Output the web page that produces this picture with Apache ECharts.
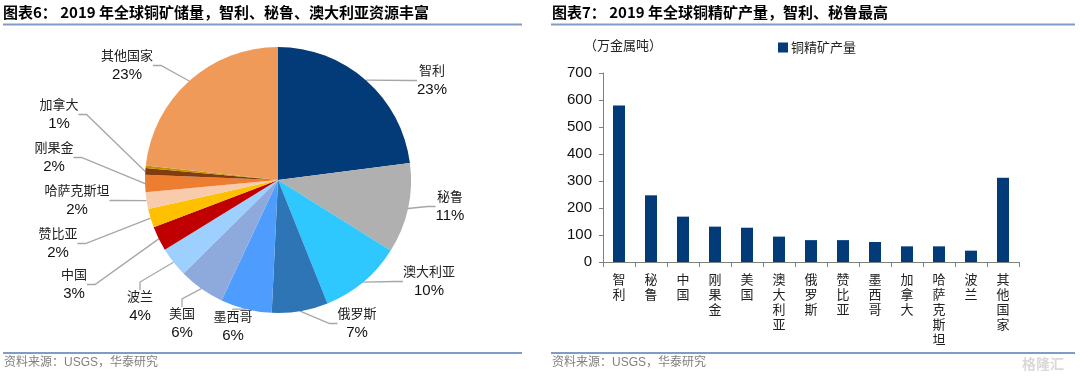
<!DOCTYPE html>
<html>
<head>
<meta charset="utf-8">
<script src="https://cdn.jsdelivr.net/npm/echarts@6/dist/echarts.min.js"></script>
<style>
html,body{margin:0;padding:0;background:#fff;}
#c{width:1080px;height:378px;}
</style>
</head>
<body>
<div id="c"></div>
<script>
// ---- Data ----
const pieNames = ['智利','秘鲁','澳大利亚','俄罗斯','墨西哥','美国','波兰','中国','赞比亚','哈萨克斯坦','刚果金','加拿大','','其他国家'];
const pieValues = [22.9, 10.9, 10.0, 6.8, 6.2, 5.6, 3.6, 3.0, 2.3, 2.0, 2.1, 0.8, 0.3, 23.2];
const pieLabels = ['23%','11%','10%','7%','6%','6%','4%','3%','2%','2%','2%','1%','','23%'];

const barCategories = ['智利','秘鲁','中国','刚果金','美国','澳大利亚','俄罗斯','赞比亚','墨西哥','加拿大','哈萨克斯坦','波兰','其他国家'];
const barValues = [580, 247, 168, 131, 127, 94, 81, 81, 74, 58, 58, 42, 312];
const barSeriesName = '铜精矿产量';
const yUnit = '（万金属吨）';

// ---- Styles / layout (not data) ----
const pieColors = ['#033a78','#b0b0b0','#2ec8ff','#2e75b6','#4f9cff','#8eaadc','#9dcfff','#c00000','#ffc000','#f8cbad','#ed7d31','#843c0c','#bf9000','#f09a5a'];
const labelPos = [[432,80],[450,206],[429,281],[357,323],[233,326],[182,323],[140,306],[74,284],[58,243],[77,200],[54,157],[59,114],null,[127,65]];

const cjk = '"Noto Sans CJK SC", sans-serif';
const lat = '"Liberation Sans", Arial, sans-serif';
const mix = '"Liberation Sans", "Noto Sans CJK SC", sans-serif';

const chart = echarts.init(document.getElementById('c'), null, {renderer:'canvas'});

const pieData = pieNames.map((n, i) => ({
  name: n, value: pieValues[i], pct: pieLabels[i],
  itemStyle: {color: pieColors[i]},
  label: {show: n !== ''},
  labelLine: {show: n !== ''}
}));

const lineColor = '#7f9cc6';
const option = {
  animation: false,
  backgroundColor: '#fff',
  graphic: [
    {type:'text', left: 3, top: 5, style:{text:'图表6： 2019 年全球铜矿储量，智利、秘鲁、澳大利亚资源丰富', font:'bold 15px ' + cjk, fill:'#000'}},
    {type:'text', left: 552, top: 5, style:{text:'图表7： 2019 年全球铜精矿产量，智利、秘鲁最高', font:'bold 15px ' + cjk, fill:'#000'}},
    {type:'line', shape:{x1:3, y1:24.5, x2:522, y2:24.5}, style:{stroke:lineColor, lineWidth:2}},
    {type:'line', shape:{x1:551, y1:24.5, x2:1075, y2:24.5}, style:{stroke:lineColor, lineWidth:2}},
    {type:'line', shape:{x1:3, y1:353, x2:522, y2:353}, style:{stroke:lineColor, lineWidth:2}},
    {type:'line', shape:{x1:551, y1:353, x2:1075, y2:353}, style:{stroke:lineColor, lineWidth:2}},
    {type:'text', left: 4, top: 357, style:{text:'资料来源：USGS，华泰研究', font:'12px ' + mix, fill:'#808080'}},
    {type:'text', left: 552, top: 357, style:{text:'资料来源：USGS，华泰研究', font:'12px ' + mix, fill:'#808080'}},
    {type:'text', left: 1022, top: 357, style:{text:'格隆汇', font:'bold 14px ' + cjk, fill:'#d9d9d9'}},
    {type:'text', left: 584, top: 39, style:{text: yUnit, font:'13px ' + cjk, fill:'#222'}}
  ],
  legend: {
    left: 773, top: 36,
    itemWidth: 10, itemHeight: 10, itemGap: 4,
    icon: 'rect',
    textStyle: {fontFamily: cjk, fontSize: 13, color:'#222', padding:[0,0,0,-2]},
    data: [barSeriesName]
  },
  grid: {left: 603, right: 61, top: 73, bottom: 116, containLabel: false},
  xAxis: {
    type: 'category',
    data: barCategories,
    axisLine: {lineStyle:{color:'#7f7f7f', width:1}},
    axisTick: {show:true, alignWithLabel:false, length:5, lineStyle:{color:'#7f7f7f'}},
    axisLabel: {
      interval: 0, margin: 10,
      fontFamily: cjk, fontSize: 13, color:'#222', lineHeight: 15,
      formatter: v => v.split('').join('\n')
    }
  },
  yAxis: {
    type: 'value', min: 0, max: 700, interval: 100,
    axisLine: {show:true, lineStyle:{color:'#7f7f7f', width:1}},
    axisTick: {show:true, length:4, lineStyle:{color:'#7f7f7f'}},
    splitLine: {show:false},
    axisLabel: {fontFamily: lat, fontSize: 15, color:'#111', margin: 11}
  },
  series: [
    {
      type: 'pie',
      center: [278, 180],
      radius: 133,
      startAngle: 90,
      clockwise: true,
      avoidLabelOverlap: false,
      data: pieData,
      itemStyle: {borderWidth: 0},
      label: {
        position: 'outside',
        formatter: p => '{n|' + p.name + '}\n{v|' + p.data.pct + '}',
        rich: {
          n: {fontFamily: cjk, fontSize: 13, color:'#222', lineHeight: 19, align:'center'},
          v: {fontFamily: lat, fontSize: 15, color:'#111', lineHeight: 19, align:'center'}
        }
      },
      labelLine: {show:true, length: 8, length2: 8, smooth:false, lineStyle:{color:'#a6a6a6', width:1.3}},
      labelLayout: function (params) {
        const p = labelPos[params.dataIndex];
        if (!p) return {};
        return {x: p[0], y: p[1], align: 'center', verticalAlign: 'middle'};
      },
      emphasis: {disabled: true}
    },
    {
      type: 'bar',
      name: barSeriesName,
      data: barValues,
      barWidth: 12,
      itemStyle: {color: '#033a78'}
    }
  ]
};
chart.setOption(option);
</script>
</body>
</html>
